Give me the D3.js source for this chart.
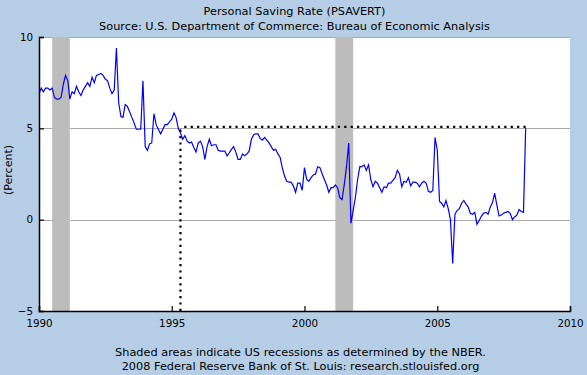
<!DOCTYPE html>
<html lang="en">
<head>
    <meta charset="UTF-8">
    <title>Personal Saving Rate</title>
    <script src="https://d3js.org/d3.v7.min.js"></script>
    <style>
      body { margin: 0; background: #b5cee5; }
      text { font-family: "DejaVu Sans", sans-serif; fill: #000; }
    </style>
</head>
<body>

<div class="chart">
</div>
<script>
  // monthly values, Jan 1990 .. May 2008
  const firstMonth = [1990, 0];
  const savingRate = [
    6.9, 7.2, 7.0, 7.2, 7.2, 7.1, 7.2, 6.7, 6.6, 6.6, 6.7, 7.4,       // 1990
    7.9, 7.6, 6.6, 7.0, 6.9, 7.3, 7.0, 6.8, 7.1, 7.3, 7.5, 7.3,       // 1991
    7.8, 7.5, 7.9, 7.95, 8.0, 7.9, 7.7, 7.6, 7.2, 6.9, 7.1, 9.4,      // 1992
    6.4, 5.65, 5.6, 6.3, 6.2, 5.9, 5.6, 5.3, 4.95, 4.95, 4.95, 7.6,   // 1993
    4.0, 3.8, 4.15, 4.2, 5.8, 5.2, 4.95, 4.7, 4.95, 5.2, 5.2, 5.35,   // 1994
    5.5, 5.85, 5.6, 5.0, 4.75, 4.4, 4.6, 4.3, 4.2, 4.25, 3.95, 3.7,   // 1995
    4.2, 4.3, 4.0, 3.3, 4.0, 4.4, 4.05, 4.1, 4.1, 3.8, 3.75, 3.75,    // 1996
    3.75, 3.5, 3.65, 3.85, 4.0, 3.7, 3.3, 3.3, 3.6, 3.5, 3.6, 3.75,   // 1997
    4.4, 4.65, 4.7, 4.7, 4.45, 4.35, 4.5, 4.35, 4.2, 4.0, 3.8, 3.85,  // 1998
    3.6, 3.4, 2.85, 2.4, 2.1, 2.05, 2.05, 1.85, 1.5, 2.0, 2.0, 1.6,   // 1999
    2.85, 2.2, 2.1, 2.3, 2.45, 2.5, 2.9, 2.85, 2.5, 2.2, 1.9, 1.5,    // 2000
    1.75, 1.75, 1.9, 1.75, 1.2, 1.1, 1.9, 2.9, 4.2, -0.2, 0.5, 1.2,   // 2001
    2.2, 2.9, 2.9, 3.0, 2.7, 3.0, 2.2, 1.8, 2.1, 2.0, 1.75, 1.5,      // 2002
    1.8, 1.75, 2.0, 2.0, 2.15, 2.3, 2.7, 2.5, 1.8, 2.1, 2.05, 2.3,    // 2003
    1.85, 2.05, 2.05, 2.0, 1.8, 2.0, 2.1, 2.0, 1.55, 1.5, 1.6, 4.5,   // 2004
    3.8, 1.0, 0.9, 0.7, 1.05, 0.6, 0.0, -2.4, 0.3, 0.5, 0.6, 0.9,     // 2005
    1.05, 0.85, 0.7, 0.35, 0.3, 0.4, -0.25, -0.05, 0.2, 0.35, 0.4, 0.3, // 2006
    0.7, 0.95, 1.45, 0.8, 0.2, 0.25, 0.35, 0.4, 0.45, 0.35, 0.0, 0.15,  // 2007
    0.25, 0.55, 0.45, 0.4, 5.0                                         // 2008
  ];
  const recessions = [['1990-07-01', '1991-03-01'], ['2001-03-01', '2001-11-01']];
  const xTickYears = [1990, 1995, 2000, 2005, 2010];
  const yTicks = [-5, 0, 5, 10];
  const gridValues = [0, 5, 10];
  const refDate = '1995-05-01';
  const refValue = 5.08;

  const titleLines = ['Personal Saving Rate (PSAVERT)', 'Source: U.S. Department of Commerce: Bureau of Economic Analysis'];
  const footerLines = ['Shaded areas indicate US recessions as determined by the NBER.', '2008 Federal Reserve Bank of St. Louis: research.stlouisfed.org'];

  const bxSize = {w: 587, h: 375};
  const margin = {top: 37, right: 17, bottom: 64, left: 39};
  const [width, height] = [bxSize.w - margin.left - margin.right, bxSize.h - margin.top - margin.bottom];
  const parse = d3.timeParse('%Y-%m-%d');

  const root = d3.select('.chart').append('svg')
    .attr('width', bxSize.w).attr('height', bxSize.h);
  root.append('rect').attr('width', bxSize.w).attr('height', bxSize.h).attr('fill', '#b5cee5');
  const svg = root.append('g').attr('transform', `translate(${margin.left} ${margin.top})`);
  svg.append('rect').attr('width', width).attr('height', height).attr('fill', '#ffffff');

  const data = savingRate.map((v, i) => ({date: new Date(firstMonth[0], firstMonth[1] + i, 1), value: v}));

  const xScale = d3.scaleTime().domain([new Date(1990, 0, 1), new Date(2010, 0, 1)]).range([0, width]);
  const yScale = d3.scaleLinear().domain([-5, 10]).range([height, 0]);

  // grid
  svg.append('g').attr('class', 'grid')
    .selectAll('line').data(gridValues).enter().append('line')
    .attr('x1', 0).attr('x2', width)
    .attr('y1', d => Math.round(yScale(d)) + 0.5).attr('y2', d => Math.round(yScale(d)) + 0.5)
    .attr('stroke', '#a9a9a9');

  // recessions
  svg.selectAll('.rec').data(recessions).enter().append('rect').attr('class', 'rec')
    .attr('x', d => xScale(parse(d[0])))
    .attr('width', d => xScale(parse(d[1])) - xScale(parse(d[0])))
    .attr('y', 0).attr('height', height)
    .attr('fill', '#bcbcbc');

  const line = d3.line().x(d => xScale(d.date)).y(d => yScale(d.value));
  svg.append('path').datum(data)
    .attr('d', line)
    .attr('fill', 'none').attr('stroke', '#0000ff').attr('stroke-width', 1.2);

  // dotted reference lines
  const rd = parse(refDate);
  const lastDate = data[data.length - 1].date;
  const dots = svg.append('g').attr('stroke', '#000').attr('stroke-width', 2.2).attr('stroke-dasharray', '2.2,4.2');
  dots.append('line')
    .attr('x1', xScale(lastDate)).attr('x2', xScale(rd))
    .attr('y1', yScale(refValue)).attr('y2', yScale(refValue));
  dots.append('line')
    .attr('x1', xScale(rd)).attr('x2', xScale(rd))
    .attr('y1', yScale(-5)).attr('y2', yScale(refValue));

  // axes
  const xAxis = d3.axisBottom(xScale)
    .tickValues(xTickYears.map(y => new Date(y, 0, 1)))
    .tickFormat(d3.timeFormat('%Y'))
    .tickSize(-5).tickPadding(9);
  const yAxis = d3.axisLeft(yScale).tickValues(yTicks).tickSize(-5).tickPadding(6);

  const gx = svg.append('g').attr('transform', `translate(0 ${height})`).call(xAxis);
  const gy = svg.append('g').call(yAxis);
  [gx, gy].forEach(g => {
    g.select('.domain').attr('stroke', '#000').attr('stroke-width', 1.5);
    g.selectAll('.tick line').attr('stroke', '#000').attr('stroke-width', 1.2);
    g.selectAll('.tick text').attr('font-size', '10.3px').attr('font-family', '"DejaVu Sans", sans-serif');
  });

  root.append('text')
    .attr('transform', `translate(12 ${margin.top + height / 2 - 4}) rotate(-90)`)
    .attr('text-anchor', 'middle').attr('font-size', '11px')
    .text('(Percent)');

  root.selectAll('.title').data(titleLines).enter().append('text').attr('class', 'title')
    .attr('x', bxSize.w / 2 + 1).attr('y', (d, i) => 15 + i * 15)
    .attr('text-anchor', 'middle').attr('font-size', '11.3px')
    .text(d => d);

  root.selectAll('.footer').data(footerLines).enter().append('text').attr('class', 'footer')
    .attr('x', bxSize.w / 2 + 7).attr('y', (d, i) => 356 + i * 14)
    .attr('text-anchor', 'middle').attr('font-size', '11.3px')
    .text(d => d);
</script>
</body>
</html>
